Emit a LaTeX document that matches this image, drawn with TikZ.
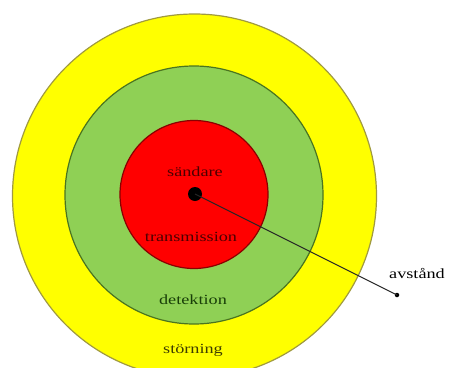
\documentclass[tikz,border=0pt]{standalone}
\usepackage{fontspec}
\setmainfont{Liberation Serif}[FakeStretch=1.3]
\definecolor{yel}{HTML}{FFFF00}
\definecolor{yelb}{HTML}{A09A40}
\definecolor{grn}{HTML}{8FD055}
\definecolor{grnb}{HTML}{4A7420}
\definecolor{rd}{HTML}{FF0000}
\definecolor{rdb}{HTML}{8A0000}
\definecolor{txr}{HTML}{4A0000}
\definecolor{txg}{HTML}{183E08}
\definecolor{txy}{HTML}{3E3E00}
\tikzset{
  ring/.style={circle, inner sep=0pt, line width=1.2pt},
  lbl/.style={inner sep=0pt, font=\fontsize{14}{16}\selectfont}
}
\begin{document}
\begin{tikzpicture}[x=1pt,y=-1pt]
\useasboundingbox (0,0) rectangle (450,367);
\begin{scope}
\clip (0,0) rectangle (450,367);
\node[ring, fill=yel, draw=yelb, minimum size=364pt] (yellow) at (194.5,196) {};
\end{scope}
\node[ring, fill=grn, draw=grnb, minimum size=258pt] (green) at (194,195) {};
\node[ring, fill=rd, draw=rdb, minimum size=148pt] (red) at (194,194.5) {};
\node[circle, fill=black, inner sep=0pt, minimum size=14pt] (src) at (195,194) {};
\node[circle, fill=black, inner sep=0pt, minimum size=4.5pt] (end) at (397,295) {};
\draw[line width=1.1pt, black!85] (src.center) -- (end.center);
\node[lbl, text=txr] (sandare) at (195,172) {sändare};
\node[lbl, text=txr] (trans) at (191,237) {transmission};
\node[lbl, text=txg] (det) at (193,300) {detektion};
\node[lbl, text=txy] (stor) at (193,350) {störning};
\node[lbl, text=black] (avst) at (417,273) {avstånd};
\end{tikzpicture}
\end{document}
